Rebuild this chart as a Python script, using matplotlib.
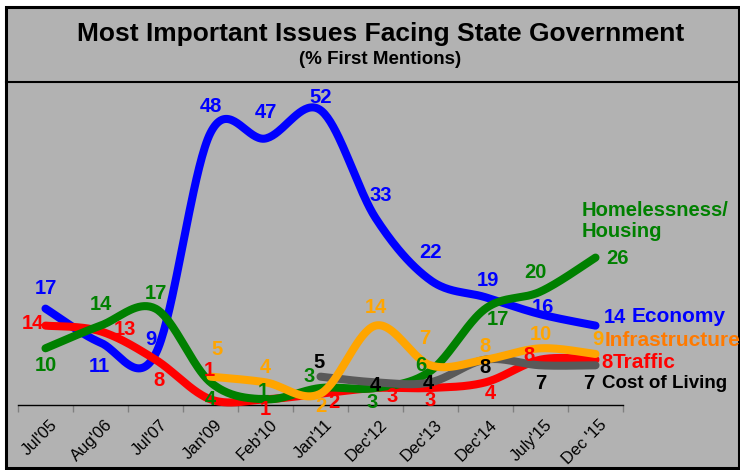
import numpy as np
import matplotlib
matplotlib.use("Agg")
import matplotlib.pyplot as plt
from matplotlib.patches import Rectangle
from matplotlib.lines import Line2D
from matplotlib import font_manager

# ---------------- data ----------------
categories = ["Jul'05", "Aug'06", "Jul'07", "Jan'09", "Feb'10", "Jan'11",
              "Dec'12", "Dec'13", "Dec'14", "July'15", "Dec '15"]
economy = [17, 11, 9, 48, 47, 52, 33, 22, 19, 16, 14]
homelessness = [10, 14, 17, 4, 1, 3, 3, 6, 17, 20, 26]
traffic = [14, 13, 8, 1, 1, 2, 3, 3, 4, 8, 8]
infrastructure = [None, None, None, 5, 4, 2, 14, 7, 8, 10, 9]
cost_of_living = [None, None, None, None, None, 5, 4, 4, 8, 7, 7]

# --------------- style ----------------
W, H = 740, 470
BG = "#B2B2B2"
FONT = "Liberation Sans"
plt.rcParams['font.family'] = [FONT, 'DejaVu Sans']

names = set(f.name for f in font_manager.fontManager.ttflist)
narrow = 'Liberation Sans Narrow' in names

fig = plt.figure(figsize=(W / 100, H / 100), dpi=100, facecolor="white")

def fx(px):
    return px / W

def fy(py):
    return 1 - py / H

# panels
fig.patches.append(Rectangle((fx(6), fy(468)), fx(733), (468 - 7) / H,
                             transform=fig.transFigure, facecolor=BG,
                             edgecolor="black", lw=2.2, zorder=-5))
fig.lines.append(Line2D([fx(6), fx(739)], [fy(82), fy(82)],
                        transform=fig.transFigure, color="black", lw=1.5, zorder=-4))

if narrow:
    fig.text(fx(381), fy(34), "Most Important Issues Facing State Government",
             family='Liberation Sans Narrow', fontsize=23, weight='bold',
             ha='center', va='center')
    fig.text(fx(380), fy(60), "(% First Mentions)", family='Liberation Sans Narrow',
             fontsize=16, weight='bold', ha='center', va='center')
else:
    fig.text(fx(381), fy(34), "Most Important Issues Facing State Government",
             fontsize=19, weight='bold', ha='center', va='center')
    fig.text(fx(380), fy(60), "(% First Mentions)",
             fontsize=13.5, weight='bold', ha='center', va='center')

# axes
y0, ytop, ppu = 405, 84, 5.67
ax = fig.add_axes([fx(18), (H - y0) / H, 605 / W, (y0 - ytop) / H])
ax.set_facecolor("none")
ax.set_xlim(-0.5, len(categories) - 0.5)
ax.set_ylim(0, (y0 - ytop) / ppu)
for s in ["top", "right", "left"]:
    ax.spines[s].set_visible(False)
ax.spines["bottom"].set_color("black")
ax.spines["bottom"].set_linewidth(1.0)
ax.set_yticks([])
ax.set_xticks(np.arange(-0.5, len(categories), 1.0))
ax.set_xticklabels([])
ax.tick_params(axis='x', length=5, width=1, color="#808080")

for i, c in enumerate(categories):
    ax.annotate(c, xy=(i, 0), xytext=(4, -12), textcoords='offset pixels',
                rotation=45, ha='right', va='top', rotation_mode='anchor',
                fontsize=12, color='black', annotation_clip=False)


def smooth(xs, ys, n=40):
    p = np.column_stack([xs, ys]).astype(float)
    out = [p[0]]
    m = len(p)
    for i in range(m - 1):
        pm = p[i - 1] if i > 0 else p[i]
        pn = p[i + 2] if i + 2 < m else p[i + 1]
        c1 = p[i] + (p[i + 1] - pm) / 6.0
        c2 = p[i + 1] - (pn - p[i]) / 6.0
        t = np.linspace(0, 1, n)[1:, None]
        seg = ((1 - t) ** 3) * p[i] + 3 * ((1 - t) ** 2) * t * c1 + \
            3 * (1 - t) * t ** 2 * c2 + t ** 3 * p[i + 1]
        out.extend(seg)
    out = np.array(out)
    return out[:, 0], out[:, 1]


series = [
    (economy, "#0000FF", "#0000FF",
     [(0, 20), (-1, -24), (-5, 14), (0, 26), (0, 26), (0, 13), (5, 22), (0, 28), (2, 17), (2, 7), (19, 8)]),
    (traffic, "#FF0000", "#FF0000",
     [(-13, 2), (24, 2), (3, -21), (-1, 29), (0, -10), (13, -9), (17, -9), (0, -13), (5, -11), (-11, 4), (12, -3)]),
    (homelessness, "#008000", "#008000",
     [(0, -17), (0, 21), (0, 15), (0, -17), (-2, 8), (-11, 11), (-3, -15), (-10, 5), (12, -11), (-5, 19), (22, -1)]),
    (cost_of_living, "#595959", "#000000",
     [None] * 5 + [(-1, 14), (0, -3), (-2, -1), (0, -8), (0, -18), (-7, -18)]),
    (infrastructure, "#FFA500", "#FFA500",
     [None] * 3 + [(7, 27), (0, 15), (0, -13), (0, 18), (-6, 27), (-1, 13), (0, 14), (2, 14)]),
]

for z, (vals, lc, tc, offs) in enumerate(series):
    xs = [i for i, v in enumerate(vals) if v is not None]
    ys = [v for v in vals if v is not None]
    sx, sy = smooth(xs, ys)
    ax.plot(sx, sy, color=lc, lw=5.8, solid_capstyle='round',
            solid_joinstyle='round', zorder=2 + z, clip_on=False)
    for i, v in enumerate(vals):
        if v is None:
            continue
        ax.annotate(str(v), xy=(i, v), xytext=offs[i], textcoords='offset pixels',
                    ha='center', va='center', fontsize=14.5, weight='bold',
                    color=tc, zorder=10, annotation_clip=False)

# series name labels
fig.text(fx(632), fy(317), "Economy", color="#0000FF", fontsize=15, weight='bold', va='center', ha='left')
fig.text(fx(605), fy(340), "Infrastructure", color="#FF7A00", fontsize=15, weight='bold', va='center', ha='left')
fig.text(fx(613), fy(363), "Traffic", color="#FF0000", fontsize=15, weight='bold', va='center', ha='left')
fig.text(fx(602), fy(383), "Cost of Living", color="#000000", fontsize=13.5, weight='bold', va='center', ha='left')
fig.text(fx(582), fy(221), "Homelessness/\nHousing", color="#008000", fontsize=14.5, weight='bold',
         va='center', ha='left', linespacing=1.15)

fig.savefig("out.png", dpi=100, facecolor="white")
